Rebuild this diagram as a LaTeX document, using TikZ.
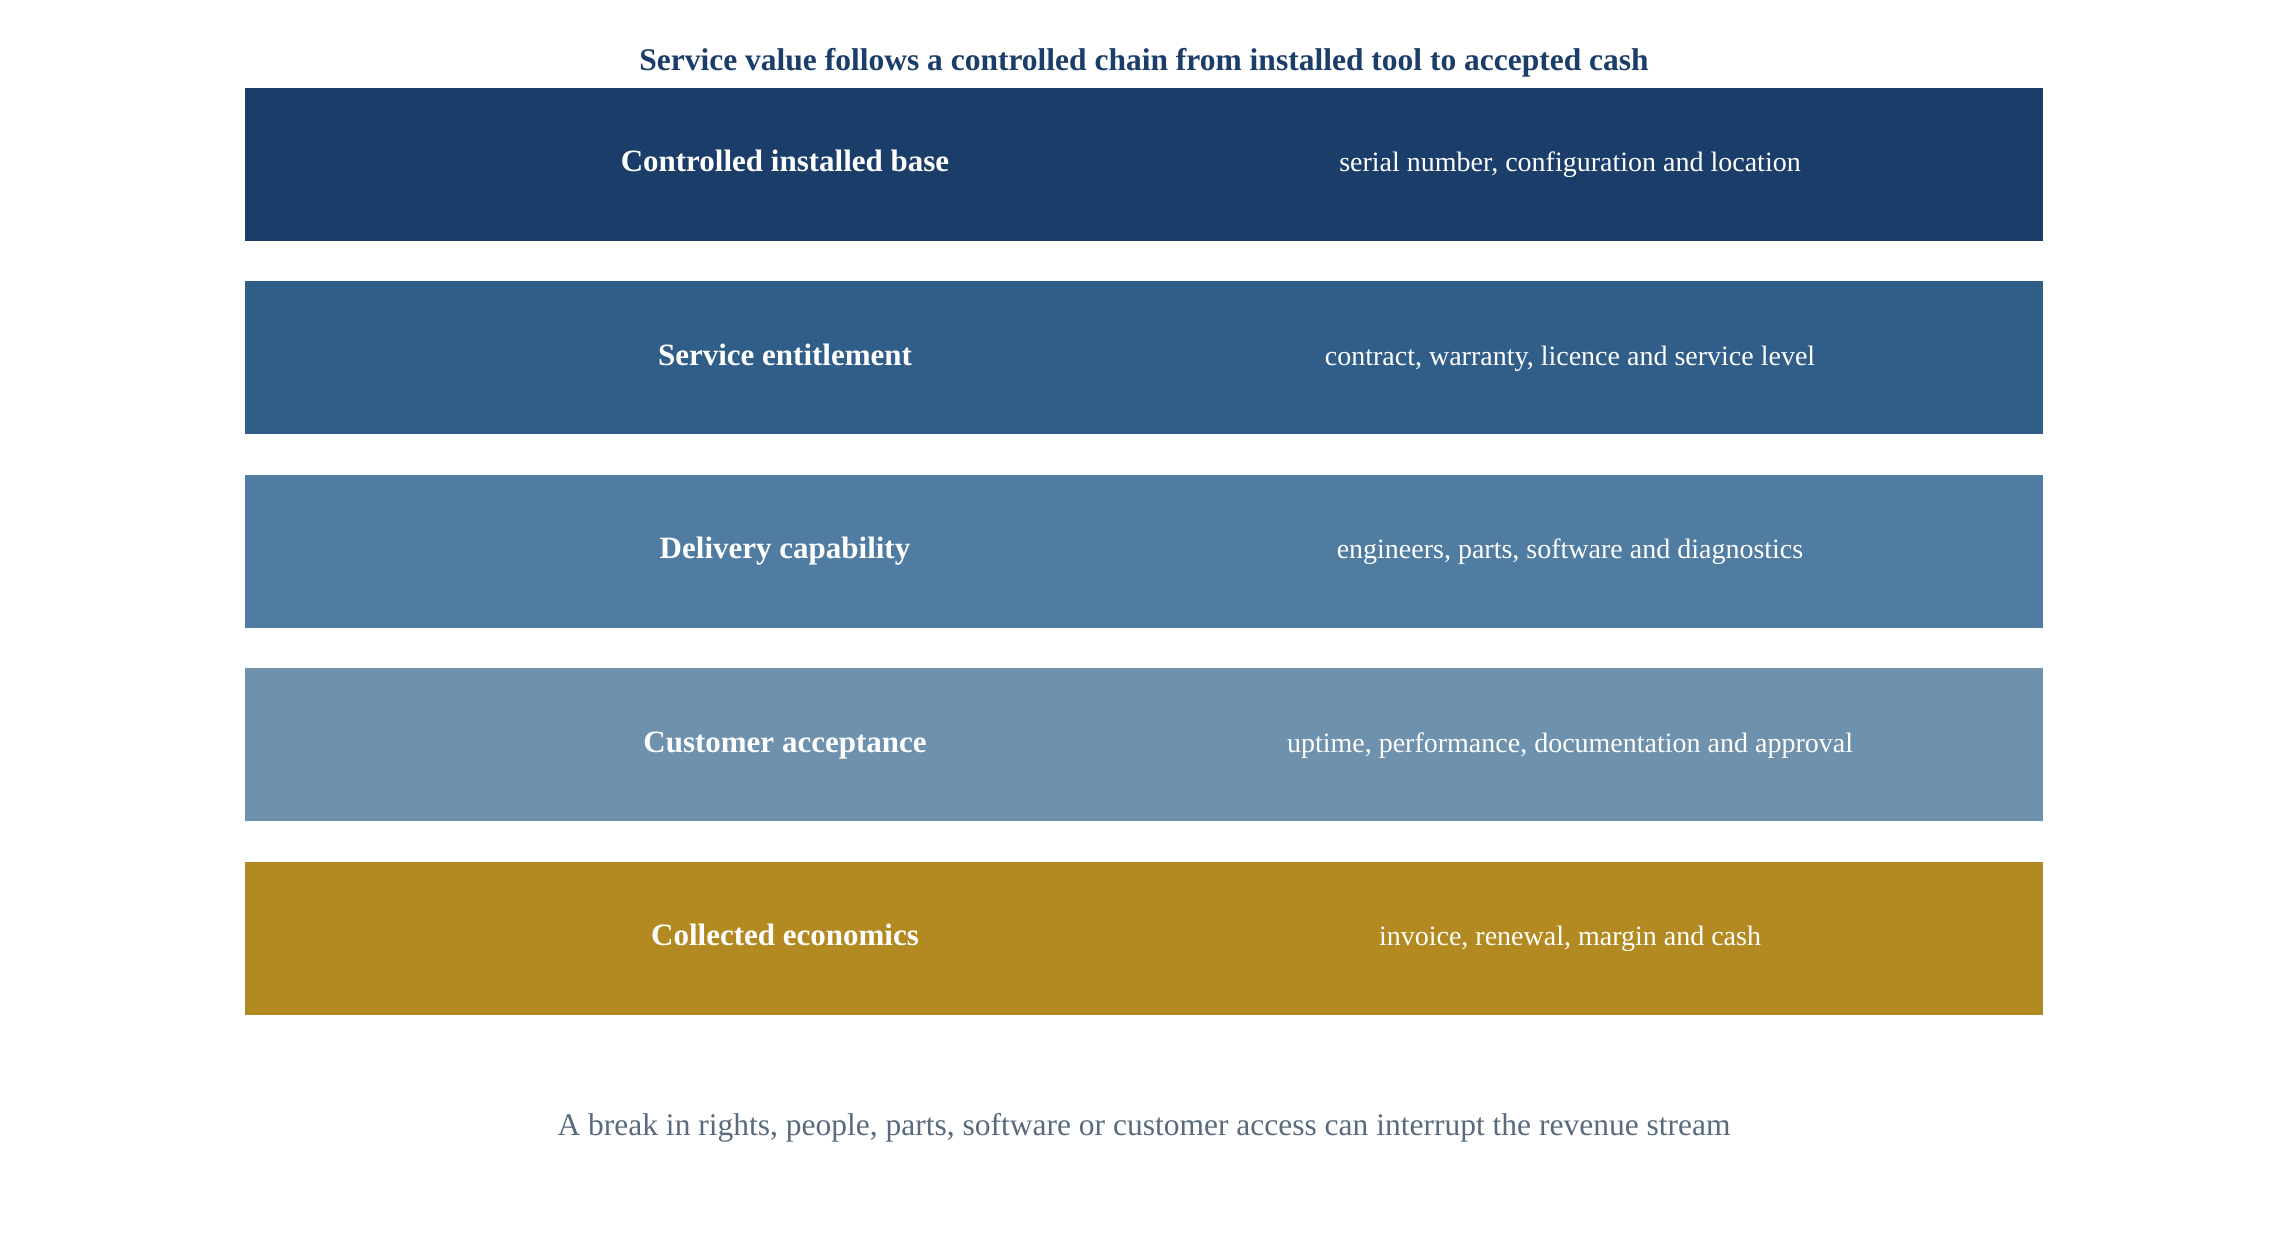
\documentclass[tikz,border=0pt]{standalone}
\usepackage{fontspec}
\setmainfont{Liberation Serif}
\definecolor{cA}{HTML}{1A3D6A}
\definecolor{cB}{HTML}{315E88}
\definecolor{cC}{HTML}{517CA2}
\definecolor{cD}{HTML}{6E91AD}
\definecolor{cE}{HTML}{B38A21}
\definecolor{titlec}{HTML}{1A3D6A}
\definecolor{notec}{HTML}{5A6A7D}
\tikzset{
  band/.style={fill=#1, draw=none},
  lbl/.style={text=white, font=\fontsize{31}{36}\selectfont\bfseries, anchor=base},
  dsc/.style={text=white, font=\fontsize{28}{33}\selectfont, anchor=base},
}
\begin{document}
\begin{tikzpicture}[x=1pt,y=-1pt]
\useasboundingbox[fill=white] (0,0) rectangle (2288,1254);
\node[text=titlec, font=\fontsize{31.5}{36}\selectfont\bfseries, anchor=base] (title) at (1144,70) {Service value follows a controlled chain from installed tool to accepted cash};
\foreach \i/\c/\a/\b in {0/cA/Controlled installed base/{serial number, configuration and location},
  1/cB/Service entitlement/{contract, warranty, licence and service level},
  2/cC/Delivery capability/{engineers, parts, software and diagnostics},
  3/cD/Customer acceptance/{uptime, performance, documentation and approval},
  4/cE/Collected economics/{invoice, renewal, margin and cash}}{
  \pgfmathsetmacro{\yt}{87.5+193.6*\i}
  \pgfmathsetmacro{\yb}{\yt+153}
  \pgfmathsetmacro{\ym}{\yt+84}
  \path[band=\c] (245,\yt) rectangle (2043,\yb);
  \node[lbl] (l\i) at (785,\ym) {\a};
  \node[dsc] (d\i) at (1570,\ym) {\b};
}
\node[text=notec, font=\fontsize{31.5}{36}\selectfont, anchor=base] (note) at (1144,1135) {A break in rights, people, parts, software or customer access can interrupt the revenue stream};
\end{tikzpicture}
\end{document}
